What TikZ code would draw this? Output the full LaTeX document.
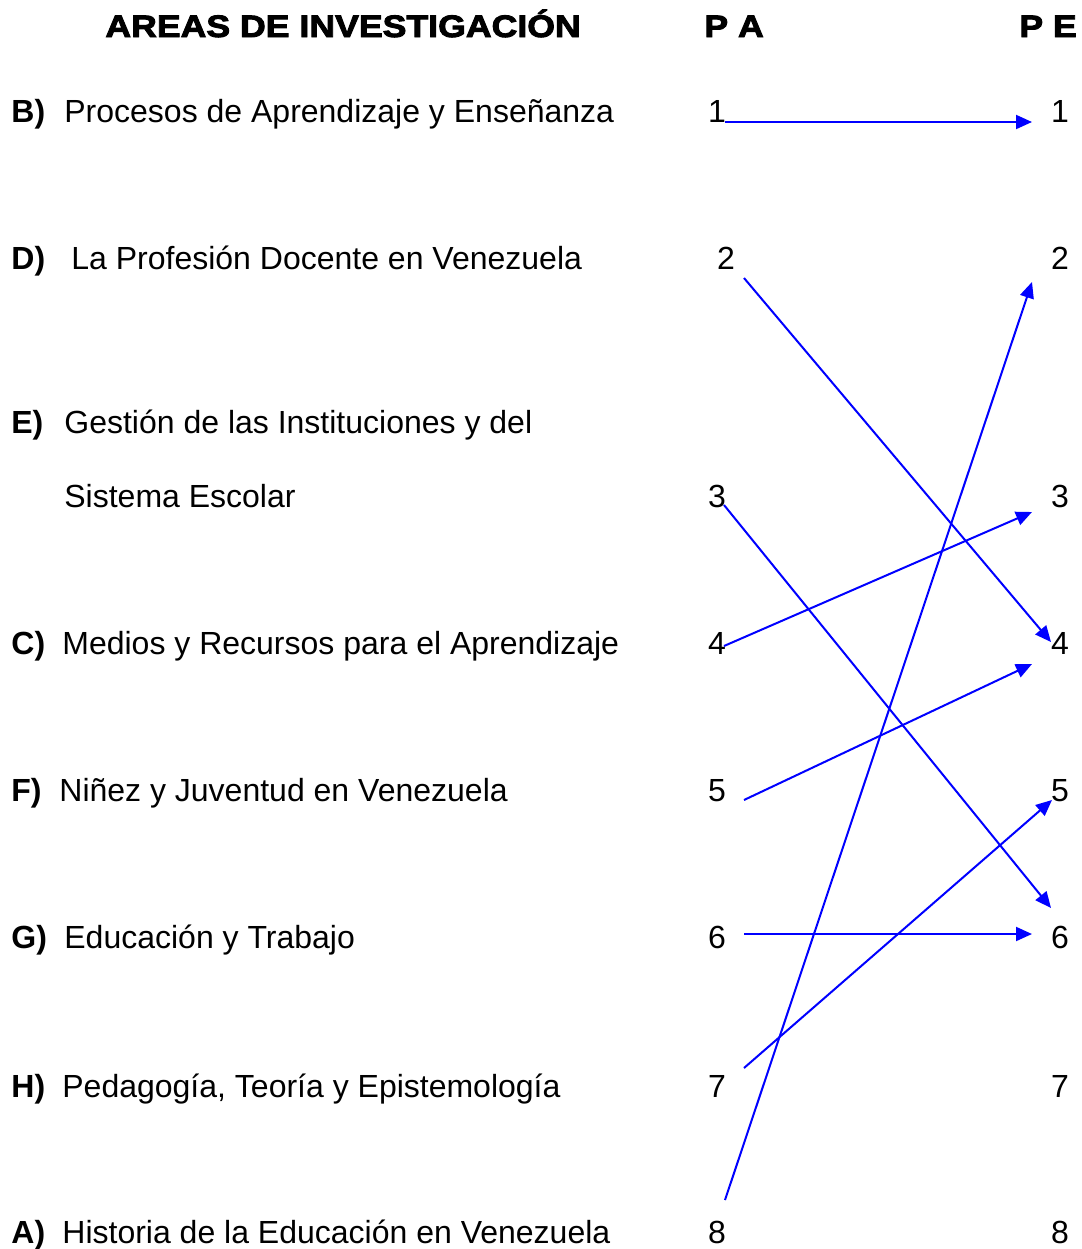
\documentclass[tikz,border=0pt]{standalone}
\usepackage{fontspec}
\setmainfont{Liberation Sans}
\newfontfamily\headfont[FakeStretch=1.15,FakeBold=3]{Liberation Sans Bold}
\usetikzlibrary{arrows.meta}
\definecolor{linkblue}{RGB}{0,0,255}
\tikzset{
  txt/.style={anchor=base west,inner sep=0pt,font=\fontsize{16}{19}\selectfont},
  lett/.style={anchor=base west,inner sep=0pt,font=\fontsize{16}{19}\selectfont\bfseries},
  num/.style={anchor=base,inner sep=0pt,font=\fontsize{16}{19}\selectfont},
  head/.style={anchor=base west,inner sep=0pt,font=\fontsize{15.5}{18}\headfont},
  link/.style={draw=linkblue,line width=1pt,-{Triangle[length=8pt,width=7pt]}}
}
\begin{document}
\begin{tikzpicture}[x=0.5pt,y=-0.5pt]
\useasboundingbox (0,0) rectangle (1082,1249);
% header
\node[head] (h1) at (105,37) {AREAS DE INVESTIGACIÓN};
\node[head] (h2) at (704,37) {P A};
\node[head] (h3) at (1019,37) {P E};
% left labels
\node[lett] (lB) at (11,122) {B)};
\node[txt] (tB) at (64,122) {Procesos de Aprendizaje y Enseñanza};
\node[lett] (lD) at (11,269) {D)};
\node[txt] (tD) at (71,269) {La Profesión Docente en Venezuela};
\node[lett] (lE) at (11,433) {E)};
\node[txt] (tE) at (64,433) {Gestión de las Instituciones y del};
\node[txt] (tE2) at (64,507) {Sistema Escolar};
\node[lett] (lC) at (11,654) {C)};
\node[txt] (tC) at (62,654) {Medios y Recursos para el Aprendizaje};
\node[lett] (lF) at (11,801) {F)};
\node[txt] (tF) at (59,801) {Niñez y Juventud en Venezuela};
\node[lett] (lG) at (11,948) {G)};
\node[txt] (tG) at (64,948) {Educación y Trabajo};
\node[lett] (lH) at (11,1097) {H)};
\node[txt] (tH) at (62,1097) {Pedagogía, Teoría y Epistemología};
\node[lett] (lA) at (11,1243) {A)};
\node[txt] (tA) at (62,1243) {Historia de la Educación en Venezuela};
% PA numbers
\node[num] (a1) at (717,122) {1};
\node[num] (a2) at (726,269) {2};
\node[num] (a3) at (717,507) {3};
\node[num] (a4) at (717,654) {4};
\node[num] (a5) at (717,801) {5};
\node[num] (a6) at (717,948) {6};
\node[num] (a7) at (717,1097) {7};
\node[num] (a8) at (717,1243) {8};
% PE numbers
\node[num] (e1) at (1060,122) {1};
\node[num] (e2) at (1060,269) {2};
\node[num] (e3) at (1060,507) {3};
\node[num] (e4) at (1060,654) {4};
\node[num] (e5) at (1060,801) {5};
\node[num] (e6) at (1060,948) {6};
\node[num] (e7) at (1060,1097) {7};
\node[num] (e8) at (1060,1243) {8};
% connector end points
\coordinate (s1) at (725,122);  \coordinate (t1) at (1032,122);
\coordinate (s2) at (744,278);  \coordinate (t2) at (1051,642);
\coordinate (s3) at (724,505);  \coordinate (t3) at (1051,908);
\coordinate (s4) at (724,646);  \coordinate (t4) at (1032,512);
\coordinate (s5) at (744,800);  \coordinate (t5) at (1032,664);
\coordinate (s6) at (744,934);  \coordinate (t6) at (1032,934);
\coordinate (s7) at (744,1068); \coordinate (t7) at (1052,800);
\coordinate (s8) at (725,1200); \coordinate (t8) at (1032,282);
\draw[link] (s1) -- (t1);
\draw[link] (s2) -- (t2);
\draw[link] (s3) -- (t3);
\draw[link] (s4) -- (t4);
\draw[link] (s5) -- (t5);
\draw[link] (s6) -- (t6);
\draw[link] (s7) -- (t7);
\draw[link] (s8) -- (t8);
\end{tikzpicture}
\end{document}
